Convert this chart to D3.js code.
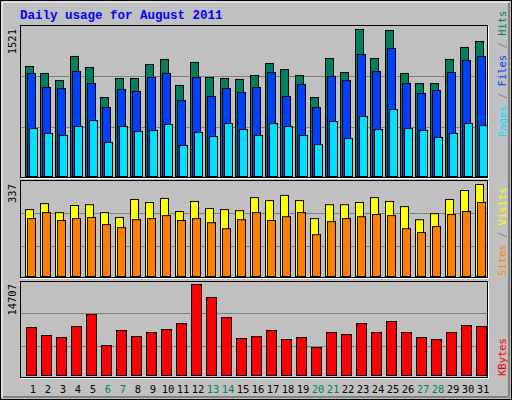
<!DOCTYPE html>
<html><head><meta charset="utf-8">
<script src="https://cdn.jsdelivr.net/npm/d3@7"></script>
<style>body{margin:0;background:#fff}</style></head>
<body><svg id="c" width="512" height="400"></svg>
<script>
const days = d3.range(1,32).map(String);
const weekend = ["6","7","13","14","20","21","27","28"];
const hits = [1138,1066,993,1242,1128,817,1014,1014,1159,1211,942,1180,1024,1014,1004,1045,1169,1107,1045,817,1221,1076,1521,1221,1511,1066,962,962,1211,1335,1397];
const files = [1066,921,911,1086,962,714,900,880,1024,1066,786,1024,828,911,869,921,1076,828,952,714,1035,993,1262,1086,1324,962,859,890,1076,1200,1242];
const pages = [497,445,424,517,579,352,517,466,476,538,321,455,414,548,486,424,548,517,424,331,569,393,621,486,693,497,476,404,445,548,528];
const sites = [245,267,234,260,263,234,216,282,271,286,238,275,249,245,241,289,278,297,278,212,263,263,271,289,275,256,208,230,282,315,337];
const visits = [212,234,205,212,216,190,179,208,212,223,205,212,197,175,208,234,205,219,234,153,201,212,219,227,223,175,161,183,227,238,271];
const kbytes = [7757,6464,6141,7919,9858,4848,7272,6303,6949,7434,8404,14707,12606,9373,5980,6303,7272,5818,6141,4525,6949,6626,8404,6949,8727,6949,6141,5818,6949,8080,7919];
const maxLabels = ["1521","337","14707"];

const svg = d3.select("#c");
svg.append("rect").attr("x",0.5).attr("y",0.5).attr("width",511).attr("height",399).attr("fill","#c0c0c0").attr("stroke","#000");
svg.append("path").attr("d","M2,397V2H509").attr("fill","none").attr("stroke","#fff").attr("stroke-width",1);
svg.append("path").attr("d","M3,397H509V3").attr("fill","none").attr("stroke","#808080").attr("stroke-width",2);
svg.append("text").attr("x",20).attr("y",19).text("Daily usage for August 2011")
  .attr("font-family","Liberation Mono, DejaVu Sans Mono, monospace").attr("font-weight","bold").attr("font-size",12.5).attr("fill","#0000ff");

const x = d3.scaleBand().domain(days).range([25,490]).paddingInner(0).paddingOuter(0);
const font = "DejaVu Sans Mono, monospace";

function panel(y0,y1,base,top,max,label,grids){
  svg.append("rect").attr("x",20.5).attr("y",y0+0.5).attr("width",467).attr("height",y1-y0).attr("fill","#c0c0c0").attr("stroke","#000");
  svg.append("path").attr("d",`M21,${y1+1.5}H488.5V${y0+1}`).attr("fill","none").attr("stroke","#fff");
  const y = d3.scaleLinear().domain([0,max]).range([base,top]);
  grids.forEach(g=>svg.append("line").attr("x1",21).attr("x2",487).attr("y1",g+0.5).attr("y2",g+0.5).attr("stroke","#808080"));
  svg.append("text").attr("transform",`translate(16,${top}) rotate(-90)`).attr("text-anchor","end")
    .attr("font-family",font).attr("font-size",10.5).attr("fill","#000").text(label);
  return y;
}
function bars(y,data,off,w,color){
  svg.append("g").selectAll("rect").data(data).join("rect")
    .attr("x",(d,i)=>x(days[i])+off+0.5).attr("y",d=>y(d)+0.5)
    .attr("width",w).attr("height",d=>y(0)-y(d)).attr("fill",color).attr("stroke","#000");
}
const y1 = panel(25,177,176,29,1521,maxLabels[0],[76,127]);
bars(y1,hits,0,8,"#00805c");
bars(y1,files,2,8,"#0040ff");
bars(y1,pages,4,8,"#00e0ff");
const y2 = panel(180,277,276,184,337,maxLabels[1],[213,246]);
bars(y2,sites,0,8,"#ffff00");
bars(y2,visits,2,8,"#ff8000");
const y3 = panel(281,377,375,284,14707,maxLabels[2],[313,346]);
bars(y3,kbytes,1,10,"#ff0000");

svg.append("g").selectAll("text").data(days).join("text")
  .attr("x",d=>x(d)+8).attr("y",393).attr("text-anchor","middle")
  .attr("font-family",font).attr("font-size",10.5)
  .attr("fill",d=>weekend.includes(d)?"#00805c":"#000").text(d=>d);

function side(yBottom, parts){
  const t = svg.append("text").attr("transform",`translate(506,${yBottom}) rotate(-90)`)
    .attr("font-family",font).attr("font-size",10.5);
  parts.forEach(([s,c])=>t.append("tspan").attr("fill",c).text(s));
}
side(137,[["Pages","#00e0ff"],[" / ","#808080"],["Files","#0040ff"],[" / ","#808080"],["Hits","#00805c"]]);
side(276,[["Sites","#ff8000"],[" / ","#808080"],["Visits","#ffff00"]]);
side(376,[["KBytes","#ff0000"]]);
</script></body></html>
